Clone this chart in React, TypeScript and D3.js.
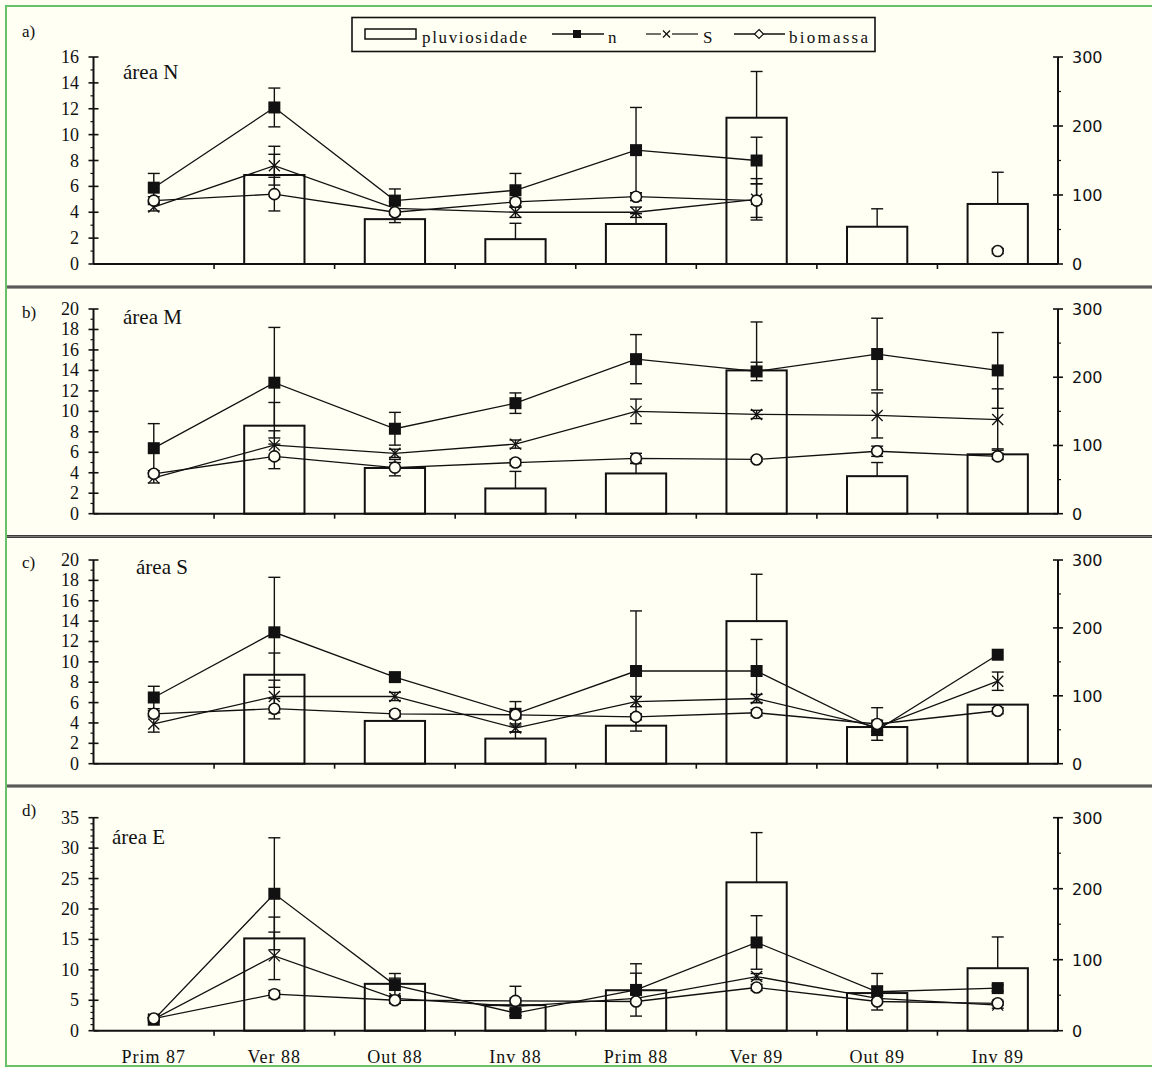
import React from "react";
import * as d3 from "d3";

const categories = ["Prim 87", "Ver 88", "Out 88", "Inv 88", "Prim 88", "Ver 89", "Out 89", "Inv 89"];

// a) área N
const pluvioA = [null, 129, 65, 36, 58, 212, 54, 87];
const pluvioErrA = [0, 30, 8, 23, 15, 67, 26, 46];
const nA = [5.9, 12.1, 4.9, 5.7, 8.8, 8.0, null, null];
const nErrA = [1.1, 1.5, 0.9, 1.3, 3.3, 1.8, 0, 0];
const sA = [4.4, 7.6, 4.3, 4.0, 4.0, 5.0, null, null];
const sErrA = [0.3, 1.5, 0.5, 0.4, 0.4, 1.6, 0, 0];
const bioA = [4.9, 5.4, 4.0, 4.8, 5.2, 4.9, null, 1.0];
const bioErrA = [0.3, 1.3, 0.8, 0.3, 0.3, 1.3, 0, 0.2];

// b) área M
const pluvioB = [null, 129, 67, 37, 59, 210, 55, 87];
const pluvioErrB = [0, 34, 8, 25, 15, 71, 20, 8];
const nB = [6.4, 12.8, 8.3, 10.8, 15.1, 13.9, 15.6, 14.0];
const nErrB = [2.4, 5.4, 1.6, 1.0, 2.4, 0.9, 3.5, 3.7];
const sB = [3.5, 6.7, 5.9, 6.8, 10.0, 9.7, 9.6, 9.2];
const sErrB = [0.5, 1.4, 0.4, 0.4, 1.2, 0.4, 2.2, 3.0];
const bioB = [3.9, 5.6, 4.5, 5.0, 5.4, 5.3, 6.1, 5.6];
const bioErrB = [0.3, 1.2, 0.8, 0.3, 0.5, 0.2, 0.5, 0.3];

// c) área S
const pluvioC = [null, 131, 63, 37, 56, 210, 54, 87];
const pluvioErrC = [0, 32, 8, 10, 10, 69, 10, 0];
const nC = [6.5, 12.9, 8.5, 4.9, 9.1, 9.1, 3.3, 10.7];
const nErrC = [1.1, 5.4, 0.4, 1.2, 5.9, 3.1, 0.5, 0];
const sC = [3.9, 6.6, 6.6, 3.5, 6.1, 6.4, 3.6, 8.1];
const sErrC = [0.8, 1.6, 0.4, 0.4, 0.5, 0.4, 0.4, 0.9];
const bioC = [4.9, 5.4, 4.9, 4.8, 4.6, 5.0, 3.9, 5.2];
const bioErrC = [0.3, 1.0, 0.3, 0.3, 0.3, 0.3, 1.6, 0.3];

// d) área E
const pluvioD = [null, 130, 66, 36, 57, 209, 53, 88];
const pluvioErrD = [0, 30, 8, 10, 24, 70, 10, 44];
const nD = [1.8, 22.5, 7.5, 2.9, 6.7, 14.5, 6.4, 7.0];
const nErrD = [0.3, 9.2, 1.9, 0.5, 4.3, 4.4, 3.0, 0.5];
const sD = [1.9, 12.3, 5.3, 4.0, 5.3, 8.9, 5.3, 4.2];
const sErrD = [0.2, 3.9, 0.5, 0.5, 0.7, 0.5, 0.5, 0.5];
const bioD = [2.0, 6.0, 5.0, 4.9, 4.8, 7.1, 4.8, 4.5];
const bioErrD = [0.2, 0.6, 0.5, 2.4, 0.3, 0.5, 0.3, 0.3];

const W = 1152;
const H = 1068;
const X0 = 93.5;
const X1 = 1058;
const BG = "#fffff3";
const INK = "#111";
const SERIF = "'Liberation Serif', 'Times New Roman', serif";
const SANS = "'DejaVu Sans', Verdana, sans-serif";

const x = d3.scaleBand<string>().domain(categories).range([X0, X1]).paddingInner(0.5).paddingOuter(0.25);
const cx = (i: number) => (x(categories[i]) as number) + x.bandwidth() / 2;

type Vals = (number | null)[];
type PanelDef = {
  tag: string; tagY: number;
  title: string; titleX: number; titleY: number;
  yTop: number; yZero: number;
  leftMax: number; leftStep: number;
  pluvio: Vals; pluvioErr: number[];
  n: Vals; nErr: number[];
  s: Vals; sErr: number[];
  bio: Vals; bioErr: number[];
  xLabels?: boolean;
};

const panels: PanelDef[] = [
  { tag: "a)", tagY: 37, title: "área N", titleX: 123, titleY: 79, yTop: 57, yZero: 264, leftMax: 16, leftStep: 2,
    pluvio: pluvioA, pluvioErr: pluvioErrA, n: nA, nErr: nErrA, s: sA, sErr: sErrA, bio: bioA, bioErr: bioErrA },
  { tag: "b)", tagY: 318, title: "área M", titleX: 123, titleY: 324, yTop: 309, yZero: 513.7, leftMax: 20, leftStep: 2,
    pluvio: pluvioB, pluvioErr: pluvioErrB, n: nB, nErr: nErrB, s: sB, sErr: sErrB, bio: bioB, bioErr: bioErrB },
  { tag: "c)", tagY: 568, title: "área S", titleX: 136, titleY: 574, yTop: 560, yZero: 763.7, leftMax: 20, leftStep: 2,
    pluvio: pluvioC, pluvioErr: pluvioErrC, n: nC, nErr: nErrC, s: sC, sErr: sErrC, bio: bioC, bioErr: bioErrC },
  { tag: "d)", tagY: 816, title: "área E", titleX: 112, titleY: 844, yTop: 817.7, yZero: 1030.7, leftMax: 35, leftStep: 5,
    pluvio: pluvioD, pluvioErr: pluvioErrD, n: nD, nErr: nErrD, s: sD, sErr: sErrD, bio: bioD, bioErr: bioErrD, xLabels: true },
];

const CAP = 6;

function ErrBar({ x0, y1, y2, both }: { x0: number; y1: number; y2: number; both: boolean }) {
  return (
    <g stroke={INK} strokeWidth={1.4}>
      <line x1={x0} x2={x0} y1={y1} y2={y2} />
      <line x1={x0 - CAP} x2={x0 + CAP} y1={y2} y2={y2} />
      {both && <line x1={x0 - CAP} x2={x0 + CAP} y1={y1} y2={y1} />}
    </g>
  );
}

function Panel({ p }: { p: PanelDef }) {
  const yL = d3.scaleLinear().domain([0, p.leftMax]).range([p.yZero, p.yTop]);
  const yR = d3.scaleLinear().domain([0, 300]).range([p.yZero, p.yTop]);
  const line = d3.line<number | null>()
    .defined((v) => v != null)
    .x((_, i) => cx(i))
    .y((v) => yL(v as number));

  const leftMajor = d3.range(0, p.leftMax + 0.001, p.leftStep);
  const leftMinor = d3.range(0, p.leftMax + 0.001, 1).filter((v) => v % p.leftStep !== 0);
  const rightMajor = yR.ticks(3);
  const rightMinor = d3.range(50, 300, 100);
  const bounds = categories.slice(1).map((c) => (x(c) as number) - (x.step() - x.bandwidth()) / 2);

  const lineErr = (vals: Vals, errs: number[], key: string) =>
    vals.map((v, i) =>
      v != null && errs[i] > 0 ? (
        <ErrBar key={key + i} x0={cx(i)} y1={yL(v - errs[i])} y2={yL(v + errs[i])} both />
      ) : null
    );

  return (
    <g>
      <text x={22} y={p.tagY} fontFamily={SERIF} fontSize={17} fill={INK}>{p.tag}</text>
      <text x={p.titleX} y={p.titleY} fontFamily={SERIF} fontSize={21} fill={INK}>{p.title}</text>

      {/* pluviosidade bars */}
      {p.pluvio.map((v, i) =>
        v == null ? null : (
          <rect key={"b" + i} x={x(categories[i])} y={yR(v)} width={x.bandwidth()} height={p.yZero - yR(v)}
            fill={BG} stroke={INK} strokeWidth={2} />
        )
      )}
      {p.pluvio.map((v, i) =>
        v == null || p.pluvioErr[i] <= 0 ? null : (
          <ErrBar key={"be" + i} x0={cx(i)} y1={yR(v)} y2={yR(v + p.pluvioErr[i])} both={false} />
        )
      )}

      {/* lines */}
      <g fill="none" stroke={INK} strokeWidth={1.3}>
        <path d={line(p.n) ?? ""} />
        <path d={line(p.s) ?? ""} />
        <path d={line(p.bio) ?? ""} />
      </g>
      {lineErr(p.n, p.nErr, "ne")}
      {lineErr(p.s, p.sErr, "se")}
      {lineErr(p.bio, p.bioErr, "oe")}

      {/* markers */}
      {p.n.map((v, i) => v == null ? null : (
        <rect key={"n" + i} x={cx(i) - 6} y={yL(v) - 6} width={12} height={12} fill={INK} />
      ))}
      {p.s.map((v, i) => v == null ? null : (
        <g key={"s" + i} stroke={INK} strokeWidth={1.3}>
          <line x1={cx(i) - 5.5} x2={cx(i) + 5.5} y1={yL(v) - 5.5} y2={yL(v) + 5.5} />
          <line x1={cx(i) - 5.5} x2={cx(i) + 5.5} y1={yL(v) + 5.5} y2={yL(v) - 5.5} />
        </g>
      ))}
      {p.bio.map((v, i) => v == null ? null : (
        <circle key={"o" + i} cx={cx(i)} cy={yL(v)} r={5.5} fill={BG} stroke={INK} strokeWidth={1.6} />
      ))}

      {/* left axis */}
      <g stroke={INK}>
        <line x1={X0} x2={X0} y1={p.yTop} y2={p.yZero} strokeWidth={2} />
        {leftMajor.map((v) => <line key={"lm" + v} x1={X0 - 5} x2={X0 + 5} y1={yL(v)} y2={yL(v)} strokeWidth={1.6} />)}
        {leftMinor.map((v) => <line key={"ln" + v} x1={X0 - 3} x2={X0} y1={yL(v)} y2={yL(v)} strokeWidth={1.2} />)}
      </g>
      {leftMajor.map((v) => (
        <text key={"lt" + v} x={79} y={yL(v) + 6} textAnchor="end" fontFamily={SERIF} fontSize={18} fill={INK}>{v}</text>
      ))}

      {/* right axis */}
      <g stroke={INK}>
        <line x1={X1} x2={X1} y1={p.yTop} y2={p.yZero} strokeWidth={2} />
        {rightMajor.map((v) => <line key={"rm" + v} x1={X1 - 5} x2={X1 + 5} y1={yR(v)} y2={yR(v)} strokeWidth={1.6} />)}
        {rightMinor.map((v) => <line key={"rn" + v} x1={X1} x2={X1 + 3} y1={yR(v)} y2={yR(v)} strokeWidth={1.2} />)}
      </g>
      {rightMajor.map((v) => (
        <text key={"rt" + v} x={1072} y={yR(v) + 6} fontFamily={SANS} fontSize={16} fill={INK}>{v}</text>
      ))}

      {/* x axis */}
      <g stroke={INK}>
        <line x1={X0} x2={X1} y1={p.yZero} y2={p.yZero} strokeWidth={2} />
        {bounds.map((b, i) => <line key={"xt" + i} x1={b} x2={b} y1={p.yZero} y2={p.yZero + 5} strokeWidth={1.6} />)}
      </g>
      {p.xLabels && categories.map((c, i) => (
        <text key={"xl" + i} x={cx(i)} y={1063} textAnchor="middle" fontFamily={SERIF} fontSize={18}
          letterSpacing={1} fill={INK}>{c}</text>
      ))}
    </g>
  );
}

function Legend() {
  const ty = 43;
  return (
    <g>
      <rect x={352} y={17.5} width={523} height={34} fill={BG} stroke={INK} strokeWidth={1.6} />
      <rect x={365} y={29} width={51} height={10} fill={BG} stroke={INK} strokeWidth={1.5} />
      <text x={422} y={ty} fontFamily={SERIF} fontSize={17} textLength={105} fill={INK}>pluviosidade</text>

      <line x1={552} x2={604} y1={34} y2={34} stroke={INK} strokeWidth={1.3} />
      <rect x={573} y={30} width={8} height={8} fill={INK} />
      <text x={608} y={ty} fontFamily={SERIF} fontSize={17} fill={INK}>n</text>

      <g stroke={INK} strokeWidth={1.2}>
        <line x1={646} x2={661} y1={34} y2={34} />
        <line x1={672} x2={698} y1={34} y2={34} />
        <line x1={663} x2={670} y1={30.5} y2={37.5} />
        <line x1={663} x2={670} y1={37.5} y2={30.5} />
      </g>
      <text x={703} y={ty} fontFamily={SERIF} fontSize={17} fill={INK}>S</text>

      <line x1={734} x2={785} y1={34} y2={34} stroke={INK} strokeWidth={1.3} />
      <path d="M759,29.5 L763.5,34 L759,38.5 L754.5,34 Z" fill={BG} stroke={INK} strokeWidth={1.2} />
      <text x={789} y={ty} fontFamily={SERIF} fontSize={17} textLength={79} fill={INK}>biomassa</text>
    </g>
  );
}

export default function App() {
  const seps = [287, 536.5, 786];
  return (
    <>
      <style>{"body{margin:0}"}</style>
      <svg width={W} height={H} viewBox={`0 0 ${W} ${H}`} style={{ display: "block" }}>
        <rect x={0} y={0} width={W} height={H} fill={BG} />
        <rect x={6} y={6} width={W + 20} height={1060} fill="none" stroke="#68c068" strokeWidth={2} />
        {seps.map((s) => (
          <g key={s}>
            <line x1={7} x2={W} y1={s} y2={s} stroke="#3c3c3c" strokeWidth={3} />
            <line x1={7} x2={W} y1={s} y2={s} stroke="#8a8a8a" strokeWidth={0.8} />
          </g>
        ))}
        {panels.map((p) => <Panel key={p.tag} p={p} />)}
        <Legend />
      </svg>
    </>
  );
}
